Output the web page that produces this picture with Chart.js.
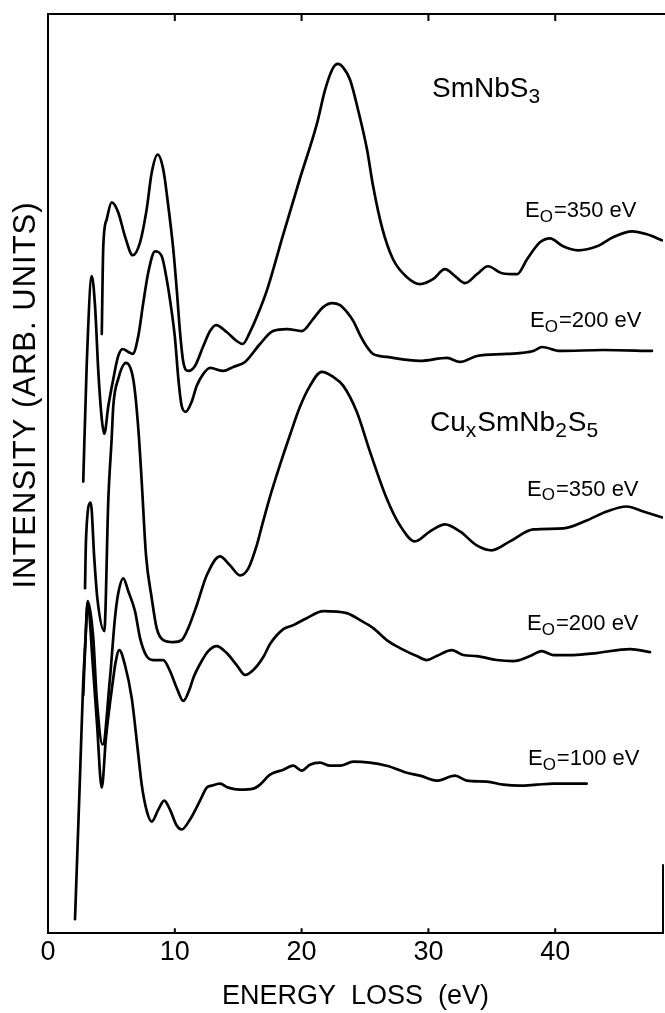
<!DOCTYPE html>
<html>
<head>
<meta charset="utf-8">
<script src="https://cdn.jsdelivr.net/npm/chart.js@4.4.1/dist/chart.umd.min.js"></script>
<style>
html, body { margin: 0; padding: 0; background: #fff; }
#wrap { width: 665px; height: 1013px; }
</style>
</head>
<body>
<div id="wrap"><canvas id="lossChart" width="665" height="1013"></canvas></div>
<script>
// Energy loss (eV), intensity (arb. units)
const smnbs350 = [[4.24,601],[4.36,689],[4.63,716],[5.02,733],[5.54,723],[6.07,699],[6.68,680],[7.26,693],[7.78,726],[8.18,763],[8.65,781],[9.09,766],[9.49,729],[9.88,686],[10.15,646],[10.41,603],[10.67,573],[11.06,564],[11.59,569],[12.25,589],[12.78,604],[13.25,610],[14.09,603],[14.88,594],[15.35,591],[15.93,603],[16.59,622],[17.27,645],[18.53,700],[19.87,757],[21.21,812],[21.85,846],[22.48,868],[22.85,872],[23.30,868],[23.82,856],[24.45,826],[25.16,786],[25.63,750],[26.34,708],[27.21,676],[28.31,658],[29.34,651],[30.36,656],[31.31,666],[32.10,659],[32.89,652],[33.83,661],[34.70,669],[35.80,662],[36.99,661],[37.78,676],[38.80,693],[39.59,697],[40.62,689],[41.80,685],[43.30,689],[44.56,698],[46.06,704],[47.24,701],[48.42,695]];

const smnbs200 = [[2.78,453],[3.05,569],[3.45,659],[3.71,629],[3.97,563],[4.24,516],[4.44,501],[4.76,529],[5.15,556],[5.54,579],[5.89,586],[6.33,583],[6.68,581],[7.12,599],[7.52,633],[7.91,663],[8.44,684],[8.97,679],[9.36,656],[9.76,623],[10.02,596],[10.28,556],[10.54,529],[10.86,523],[11.33,533],[11.73,549],[12.25,561],[12.78,567],[13.83,564],[14.61,568],[15.54,573],[16.72,591],[17.74,604],[18.85,606],[20.03,604],[20.90,616],[21.70,628],[22.40,632],[23.03,630],[23.58,623],[24.08,614],[24.61,600],[25.16,588],[25.63,581],[26.74,578],[29.34,574],[31.47,577],[32.49,573],[33.83,579],[36.20,581],[38.27,584],[38.96,588],[40.38,584],[43.77,585],[47.63,584]];

const cusm350 = [[2.92,346],[3.00,396],[3.37,432],[3.65,376],[3.89,336],[4.44,303],[4.76,436],[5.02,496],[5.15,529],[5.54,556],[6.15,572],[6.60,563],[6.86,543],[7.18,496],[7.39,453],[7.73,379],[8.18,336],[8.57,306],[9.09,294],[9.88,292],[10.54,294],[11.06,306],[11.73,329],[12.52,359],[13.56,378],[14.35,369],[15.14,359],[15.80,366],[16.46,389],[16.90,410],[17.51,438],[18.30,470],[19.09,500],[19.87,528],[20.66,549],[21.58,563],[22.50,558],[23.29,549],[24.35,523],[25.39,483],[26.71,436],[27.76,409],[28.94,393],[30.13,403],[31.31,410],[32.49,403],[33.81,389],[34.99,384],[36.43,393],[38.27,405],[40.64,406],[42.48,414],[44.06,423],[45.64,428],[46.95,423],[48.45,417]];

const cusm200 = [[2.78,239],[2.92,283],[3.13,333],[3.57,296],[3.84,236],[4.31,189],[4.89,256],[5.28,316],[5.54,341],[5.94,356],[6.33,343],[6.86,323],[7.26,296],[7.73,279],[8.30,274],[9.09,274],[9.62,263],[10.15,246],[10.67,233],[11.20,246],[11.46,256],[12.12,273],[12.64,283],[13.30,288],[14.09,281],[14.88,269],[15.54,259],[16.19,264],[16.98,277],[17.51,290],[18.56,305],[19.35,309],[20.40,316],[21.71,323],[23.56,321],[24.61,314],[25.65,306],[26.71,294],[27.76,286],[29.08,278],[29.87,274],[30.65,278],[31.84,284],[32.75,279],[33.81,278],[35.39,274],[36.70,273],[38.01,278],[38.93,283],[39.85,279],[41.43,279],[43.27,281],[45.90,285],[47.48,282]];

const cusm100 = [[2.13,14],[2.52,156],[2.76,246],[2.96,296],[3.13,331],[3.55,266],[3.86,211],[4.24,146],[4.57,196],[5.15,256],[5.32,271],[5.62,284],[6.07,269],[6.60,236],[6.86,209],[7.12,179],[7.39,149],[7.78,123],[8.18,112],[8.70,124],[9.17,133],[9.62,124],[10.15,108],[10.54,104],[11.20,114],[11.99,133],[12.52,146],[12.91,148],[13.56,150],[14.22,146],[15.14,144],[16.19,145],[16.72,149],[17.51,159],[18.56,164],[19.35,168],[20.01,163],[20.66,169],[21.45,171],[22.24,168],[23.03,168],[24.08,172],[26.71,168],[28.29,161],[29.34,158],[30.65,153],[32.10,158],[33.02,153],[34.60,152],[35.91,149],[37.22,148],[38.54,149],[39.85,150],[42.48,150]];

const xTicks = [0, 10, 20, 30, 40];
const seriesNames = ['SmNbS3 350 eV', 'SmNbS3 200 eV', 'CuxSmNb2S5 350 eV', 'CuxSmNb2S5 200 eV', 'CuxSmNb2S5 100 eV'];
const seriesData = [smnbs350, smnbs200, cusm350, cusm200, cusm100];

const FONT = "'Liberation Sans', Arial, sans-serif";

// curve labels, placed in data coordinates (left edge, baseline)
const curveLabels = [
    { parts: [['SmNbS', false], ['3', true]], x: 30.28, y: 839, size: 28 },
    { parts: [['E', false], ['O', true], ['=350 eV', false]], x: 37.62, y: 718, size: 22 },
    { parts: [['E', false], ['O', true], ['=200 eV', false]], x: 38.01, y: 608, size: 22 },
    { parts: [['Cu', false], ['x', true], ['SmNb', false], ['2', true], ['S', false], ['5', true]], x: 30.13, y: 504, size: 28 },
    { parts: [['E', false], ['O', true], ['=350 eV', false]], x: 37.78, y: 439, size: 22 },
    { parts: [['E', false], ['O', true], ['=200 eV', false]], x: 37.78, y: 304, size: 22 },
    { parts: [['E', false], ['O', true], ['=100 eV', false]], x: 37.85, y: 169, size: 22 }
];

// frame, inward ticks, labels, y title
const framePlugin = {
    id: 'frame',
    afterDraw(chart) {
        const ctx = chart.ctx;
        const { left, right, top, bottom } = chart.chartArea;
        const xs = chart.scales.x, ys = chart.scales.y;
        ctx.save();
        ctx.strokeStyle = '#000';
        ctx.lineWidth = 2;
        ctx.beginPath();
        ctx.moveTo(left, top);
        ctx.lineTo(right + 2, top);
        ctx.moveTo(right, bottom);
        ctx.lineTo(right, bottom - 69);
        xTicks.forEach(v => {
            if (v === 0) return;
            const px = xs.getPixelForValue(v);
            ctx.moveTo(px, top);
            ctx.lineTo(px, top + 7);
            ctx.moveTo(px, bottom);
            ctx.lineTo(px, bottom - 5);
        });
        ctx.stroke();

        ctx.fillStyle = '#000';
        ctx.textBaseline = 'alphabetic';
        ctx.textAlign = 'left';
        curveLabels.forEach(lab => {
            let px = xs.getPixelForValue(lab.x);
            const py = ys.getPixelForValue(lab.y);
            lab.parts.forEach(([txt, sub]) => {
                const sz = sub ? Math.round(lab.size * 0.75) : lab.size;
                ctx.font = sz + 'px ' + FONT;
                ctx.fillText(txt, px, py + (sub ? lab.size * 0.22 : 0));
                px += ctx.measureText(txt).width + (sub ? 1 : 0);
            });
        });

        // y axis title
        ctx.translate(26, 395);
        ctx.rotate(-Math.PI / 2);
        ctx.font = '31px ' + FONT;
        if ('letterSpacing' in ctx) ctx.letterSpacing = '1px';
        ctx.textAlign = 'center';
        ctx.textBaseline = 'middle';
        ctx.fillText('INTENSITY (ARB. UNITS)', 0, 0);
        ctx.restore();
    }
};

const ctx = document.getElementById('lossChart').getContext('2d');

new Chart(ctx, {
    type: 'line',
    data: {
        datasets: seriesData.map((pts, i) => ({
            label: seriesNames[i],
            data: pts.map(p => ({ x: p[0], y: p[1] })),
            borderColor: '#000',
            borderWidth: 2.7,
            borderJoinStyle: 'round',
            borderCapStyle: 'round',
            pointRadius: 0,
            fill: false,
            cubicInterpolationMode: 'monotone'
        }))
    },
    options: {
        responsive: false,
        animation: false,
        devicePixelRatio: 1,
        layout: { padding: { left: 48, right: 2, top: 14, bottom: 0 } },
        plugins: {
            legend: { display: false },
            tooltip: { enabled: false }
        },
        scales: {
            x: {
                type: 'linear',
                min: 0,
                max: 48.5,
                afterBuildTicks: scale => { scale.ticks = xTicks.map(v => ({ value: v })); },
                grid: { display: false, drawTicks: false },
                border: { display: true, color: '#000', width: 2 },
                ticks: {
                    color: '#000',
                    padding: 3,
                    maxRotation: 0,
                    font: { family: FONT, size: 27 }
                },
                title: {
                    display: true,
                    text: 'ENERGY  LOSS  (eV)',
                    color: '#000',
                    padding: { top: 9, bottom: 0 },
                    font: { family: FONT, size: 27 }
                }
            },
            y: {
                type: 'linear',
                min: 0,
                max: 922,
                grid: { display: false, drawTicks: false },
                border: { display: true, color: '#000', width: 2 },
                ticks: { display: false }
            }
        }
    },
    plugins: [framePlugin]
});
</script>
</body>
</html>
